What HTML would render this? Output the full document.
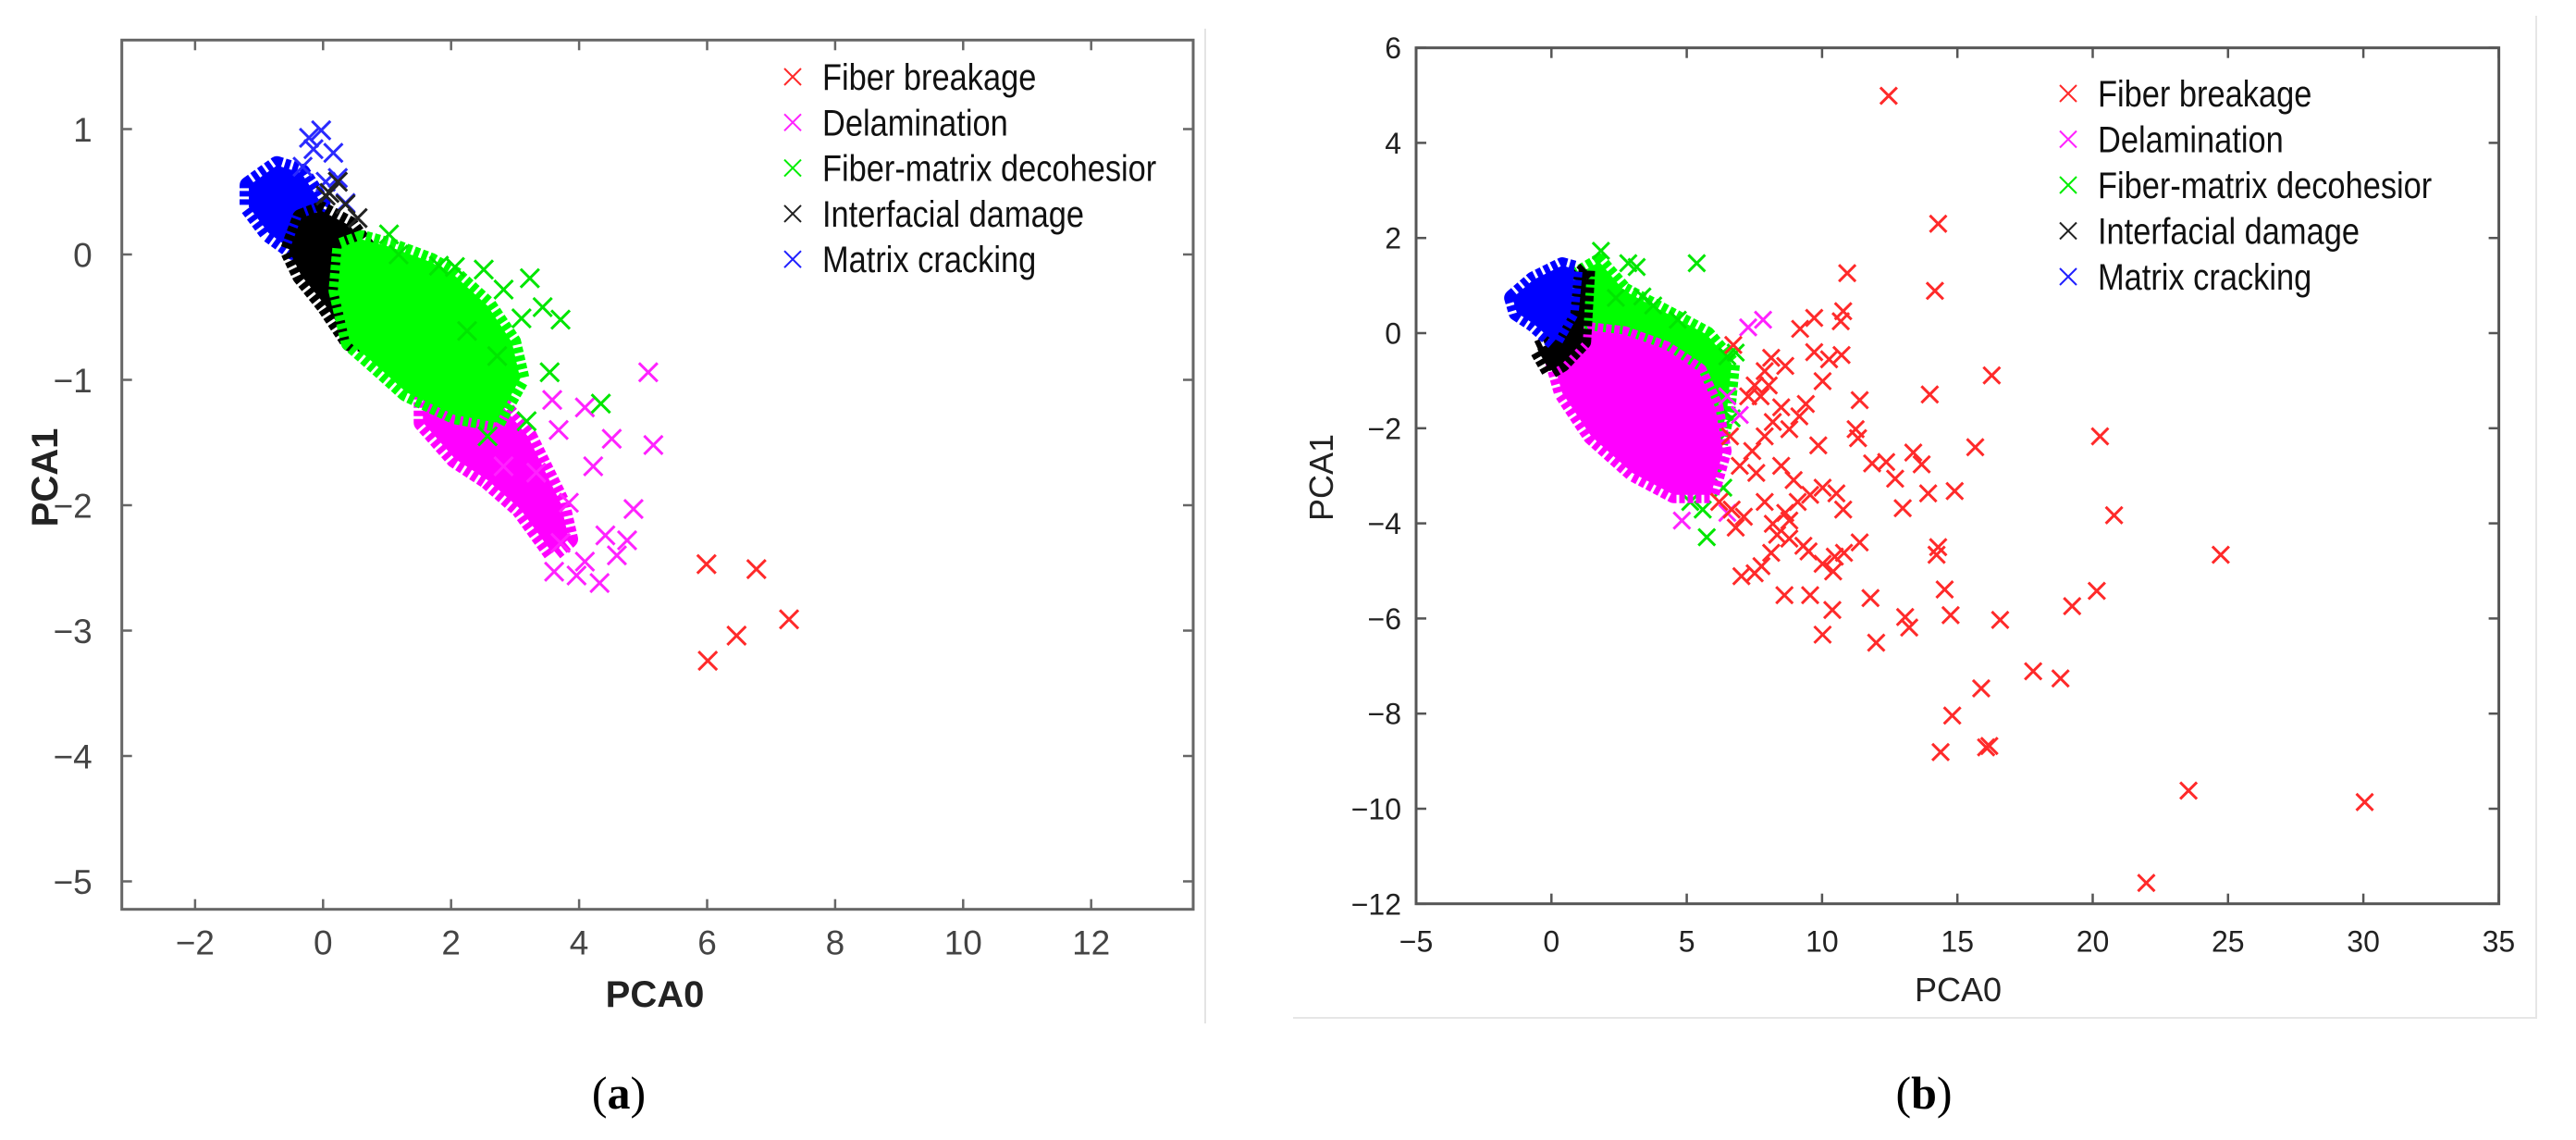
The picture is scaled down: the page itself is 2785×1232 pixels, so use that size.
<!DOCTYPE html>
<html><head><meta charset="utf-8"><style>
html,body{margin:0;padding:0;background:#fff;}
svg{display:block;}
</style></head><body>
<svg id="fig" width="2785" height="1232" viewBox="0 0 2785 1232" xmlns="http://www.w3.org/2000/svg">
<rect x="0" y="0" width="2785" height="1232" fill="#fff"/>
<line x1="1303" y1="31" x2="1303" y2="1106" stroke="#e4e4e4" stroke-width="2"/>
<polyline points="1398,1100 2742,1100 2742,17" fill="none" stroke="#e6e6e6" stroke-width="2"/>
<g id="plotA"></g>
<g id="plotB"></g>
<text x="669" y="1198" font-family="Liberation Serif, serif" font-size="50" text-anchor="middle">(<tspan font-weight="bold">a</tspan>)</text>
<text x="2080" y="1198" font-family="Liberation Serif, serif" font-size="50" text-anchor="middle">(<tspan font-weight="bold">b</tspan>)</text>
</svg>
<script>
// ---------- Panel A data ----------
const aXTicks=[-2,0,2,4,6,8,10,12];
const aYTicks=[-5,-4,-3,-2,-1,0,1];
const aBlueCloud=[[-1.16,0.55],[-0.72,0.71],[-0.34,0.65],[-0.03,0.41],[-0.28,0.17],[-0.47,0.03],[-0.85,0.17],[-1.16,0.38]];
const aBluePts=[[-0.22,0.93],[-0.03,0.99],[0.16,0.81],[-0.15,0.84],[0.23,0.61],[0.04,0.58],[0.35,0.41],[-0.32,0.70]];
const aBlackCloud=[[-0.34,0.29],[-0.03,0.35],[0.42,0.23],[0.67,0.06],[0.61,-0.29],[0.61,-0.70],[0.42,-0.70],[0.04,-0.41],[-0.34,-0.17],[-0.53,0.03]];
const aBlackPts=[[0.10,0.49],[0.23,0.58],[0.54,0.29],[1.43,-0.20],[0.04,0.47],[0.35,0.40]];
const aGreenCloud=[[0.29,0.06],[0.61,0.12],[1.05,0.06],[1.68,-0.06],[2.06,-0.17],[2.57,-0.41],[2.95,-0.70],[3.08,-0.99],[2.70,-1.34],[2.06,-1.28],[1.30,-1.10],[0.80,-0.87],[0.42,-0.70],[0.23,-0.29]];
const aGreenPts=[[1.03,0.16],[1.18,0],[1.81,-0.09],[2.06,-0.10],[2.51,-0.12],[2.82,-0.28],[3.23,-0.19],[3.43,-0.42],[3.71,-0.52],[3.10,-0.51],[3.54,-0.94],[4.34,-1.19],[3.18,-1.33],[2.57,-1.45],[2.25,-0.61],[2.72,-0.81]];
const aMagentaCloud=[[1.56,-1.10],[2.44,-0.99],[3.20,-1.45],[3.71,-1.98],[3.84,-2.27],[3.58,-2.38],[3.08,-2.03],[2.57,-1.80],[2.06,-1.63],[1.56,-1.34]];
const aMagentaPts=[[5.08,-0.94],[5.16,-1.52],[4.51,-1.47],[4.09,-1.22],[4.22,-1.69],[4.85,-2.03],[4.75,-2.28],[4.41,-2.24],[4.32,-2.62],[3.96,-2.56],[4.09,-2.45],[3.61,-2.53],[3.71,-2.30],[3.84,-1.98],[3.68,-1.40],[3.58,-1.16],[4.59,-2.40],[2.82,-1.69],[3.33,-1.74]];
const aRedPts=[[5.99,-2.47],[6.77,-2.51],[7.28,-2.91],[6.46,-3.04],[6.01,-3.24]];

// ---------- Panel B data ----------
const bXTicks=[-5,0,5,10,15,20,25,30,35];
const bYTicks=[-12,-10,-8,-6,-4,-2,0,2,4,6];
const bBlueCloud=[[-1.44,0.74],[-0.67,1.12],[0.40,1.42],[0.85,1.35],[0.70,0.43],[0.09,-0.18],[-0.67,0.20],[-1.28,0.43]];
const bBlackCloud=[[0.09,-0.18],[0.70,0.43],[1.01,1.19],[1.31,1.35],[1.16,-0.18],[0.40,-0.64],[-0.06,-0.80],[-0.52,-0.34]];
const bGreenCloud=[[0.85,1.19],[1.77,1.50],[2.69,0.89],[4.21,0.43],[5.74,-0.03],[6.66,-0.64],[6.50,-1.56],[6.05,-2.79],[5.13,-3.09],[4.21,-2.17],[2.69,-0.95],[1.16,-0.18],[0.70,0.43]];
const bGreenPts=[[1.83,1.73],[2.84,1.47],[3.15,1.39],[5.37,1.47],[3.36,0.77],[3.76,0.58],[2.38,0.74],[4.67,0.28],[6.50,-0.49],[6.81,-0.41],[5.74,-4.29],[5.59,-3.71],[6.35,-3.25],[5.13,-3.55],[6.05,-2.33],[6.66,-1.79]];
const bMagentaCloud=[[0.55,-0.18],[1.47,0.05],[2.69,-0.03],[4.21,-0.34],[5.44,-0.80],[6.05,-1.56],[6.35,-2.48],[5.89,-3.40],[4.52,-3.40],[2.99,-2.94],[1.47,-2.17],[0.40,-1.26],[0.09,-0.64]];
const bMagentaPts=[[7.27,0.12],[7.82,0.28],[4.82,-3.94],[6.50,-1.33],[6.96,-1.72],[6.50,-3.78]];
const bRedPts=[[12.46,4.99],[14.29,2.30],[14.17,0.89],[10.93,1.26],[10.78,0.46],[10.69,0.25],[9.71,0.32],[9.19,0.09],[6.72,-0.25],[8.12,-0.52],[8.64,-0.69],[9.71,-0.40],[10.26,-0.55],[10.72,-0.46],[10.02,-1.01],[7.88,-0.80],[7.51,-1.10],[11.39,-1.41],[13.98,-1.29],[16.27,-0.89],[15.66,-2.40],[20.27,-2.17],[20.79,-3.83],[24.73,-4.66],[14.90,-3.32],[13.92,-3.37],[12.98,-3.68],[11.85,-2.74],[12.37,-2.71],[12.70,-3.06],[13.37,-2.51],[13.68,-2.76],[11.24,-2.02],[11.33,-2.21],[9.86,-2.36],[9.40,-1.49],[9.16,-1.75],[8.79,-2.02],[8.18,-1.87],[7.88,-2.17],[7.42,-2.48],[6.96,-2.79],[6.60,-2.17],[8.49,-2.79],[8.95,-3.09],[9.10,-3.55],[9.56,-3.40],[10.02,-3.25],[10.53,-3.37],[10.78,-3.71],[11.39,-4.40],[10.81,-4.62],[10.41,-5.01],[10.47,-4.70],[10.02,-4.85],[9.50,-4.59],[9.31,-4.47],[8.79,-4.32],[8.34,-4.24],[8.12,-4.62],[7.76,-4.90],[7.51,-5.05],[7.02,-5.11],[8.61,-5.51],[9.56,-5.51],[10.38,-5.82],[10.02,-6.34],[11.79,-5.57],[12.00,-6.51],[13.07,-5.97],[13.22,-6.19],[14.29,-4.50],[14.23,-4.66],[14.53,-5.39],[14.75,-5.93],[16.58,-6.03],[19.24,-5.74],[20.15,-5.42],[17.80,-7.11],[18.81,-7.26],[15.88,-7.47],[14.81,-8.04],[14.38,-8.81],[16.06,-8.71],[16.18,-8.68],[23.54,-9.62],[30.05,-9.86],[21.98,-11.56],[6.66,-3.71],[7.11,-3.86],[7.88,-3.55],[8.18,-4.01],[8.64,-3.78],[8.79,-3.94],[6.81,-4.09],[6.20,-3.55],[7.57,-2.94],[8.49,-1.56],[7.73,-1.33],[7.27,-1.33],[8.03,-1.10]];

const legendLabels=["Fiber breakage","Delamination","Fiber-matrix decohesior","Interfacial damage","Matrix cracking"];
const legendColors=["#ff2a2a","#ff22ff","#00ee00","#222222","#2020ff"];

const NS="http://www.w3.org/2000/svg";
function mk(parent,tag,attrs){const e=document.createElementNS(NS,tag);for(const k in attrs)e.setAttribute(k,attrs[k]);parent.appendChild(e);return e;}

function makeChart(g,cfg){
  const X=v=>cfg.x0+v*cfg.sx, Y=v=>cfg.y0-v*cfg.sy;
  const L=cfg.box[0],R=cfg.box[1],T=cfg.box[2],B=cfg.box[3];
  function cloud(pts,color,name){
    const p=mk(g,'polygon',{points:pts.map(q=>X(q[0])+','+Y(q[1])).join(' '),fill:color,stroke:color,'stroke-width':cfg.ms*2,'stroke-linejoin':'round','stroke-dasharray':'6 3'});
    
    
  }
  function marks(pts,color,name){
    const grp=mk(g,'g',{});
    
    
    pts.forEach(q=>{
      const cx=X(q[0]),cy=Y(q[1]),s=cfg.ms;
      const pth=mk(grp,'path',{d:`M${cx-s},${cy-s}L${cx+s},${cy+s}M${cx-s},${cy+s}L${cx+s},${cy-s}`,stroke:color,'stroke-width':3,fill:'none'});
      
      
    });
  }
  cfg.layers.forEach(l=>{ if(l.type==='cloud')cloud(l.data,l.color,l.name); else marks(l.data,l.color,l.name); });
  const box=mk(g,'rect',{x:L,y:T,width:R-L,height:B-T,fill:'none',stroke:cfg.axisColor,'stroke-width':3});
  
  
  cfg.xt.forEach(v=>{
    const x=X(v);
    mk(g,'line',{x1:x,y1:B,x2:x,y2:B-11,stroke:cfg.axisColor,'stroke-width':2.5});
    mk(g,'line',{x1:x,y1:T,x2:x,y2:T+11,stroke:cfg.axisColor,'stroke-width':2.5});
    const t=mk(g,'text',{x:x,y:B+cfg.xlOff,'text-anchor':'middle','font-family':'Liberation Sans, sans-serif','font-size':cfg.fs,fill:cfg.labColor});
    t.textContent=String(v).replace('-','\u2212');
    
    
  });
  cfg.yt.forEach(v=>{
    const y=Y(v);
    mk(g,'line',{x1:L,y1:y,x2:L+11,y2:y,stroke:cfg.axisColor,'stroke-width':2.5});
    mk(g,'line',{x1:R,y1:y,x2:R-11,y2:y,stroke:cfg.axisColor,'stroke-width':2.5});
    const t=mk(g,'text',{x:L-cfg.ylOff,y:y+cfg.fs*0.36,'text-anchor':'end','font-family':'Liberation Sans, sans-serif','font-size':cfg.fs,fill:cfg.labColor});
    t.textContent=String(v).replace('-','\u2212');
    
    
  });
  const xt=mk(g,'text',{x:cfg.xTitle[0],y:cfg.xTitle[1],'text-anchor':'middle','font-family':'Liberation Sans, sans-serif','font-size':cfg.tfs,'font-weight':cfg.tw,fill:'#222'});
  xt.textContent='PCA0';
  
  
  const yt=mk(g,'text',{x:0,y:0,transform:`translate(${cfg.yTitle[0]},${cfg.yTitle[1]}) rotate(-90)`,'text-anchor':'middle','font-family':'Liberation Sans, sans-serif','font-size':cfg.tfs,'font-weight':cfg.tw,fill:'#222'});
  yt.textContent='PCA1';
  
  
  const lg=mk(g,'g',{});
  
  
  legendLabels.forEach((lab,i)=>{
    const y=cfg.leg[1]+i*cfg.legStep, mx=cfg.leg[0], s=9;
    const e=mk(lg,'g',{});
    
    
    mk(e,'path',{d:`M${mx-s},${y-s}L${mx+s},${y+s}M${mx-s},${y+s}L${mx+s},${y-s}`,stroke:legendColors[i],'stroke-width':2,fill:'none'});
    const t=mk(e,'text',{x:0,y:0,transform:`translate(${mx+32},${y+14}) scale(0.86,1)`,'font-family':'Liberation Sans, sans-serif','font-size':40,fill:'#111'});
    t.textContent=lab;
  });
}

makeChart(document.getElementById('plotA'),{
  x0:349.3,sx:69.2,y0:275,sy:135.5,box:[131.7,1290,43.3,982.7],ms:10,
  axisColor:'#666',labColor:'#444',fs:37,xlOff:49,ylOff:32,tfs:40,tw:'bold',
  xTitle:[708,1088],yTitle:[62,516],leg:[857,83],legStep:49.3,
  xt:aXTicks,yt:aYTicks,
  layers:[
    {type:'cloud',data:aMagentaCloud,color:'#ff00ff',name:'delamination-cloud'},
    {type:'pts',data:aMagentaPts,color:'#ff22ff',name:'delamination-points'},
    {type:'cloud',data:aBlueCloud,color:'#0000ff',name:'matrix-cracking-cloud'},
    {type:'pts',data:aBluePts,color:'#2a2aff',name:'matrix-cracking-points'},
    {type:'cloud',data:aBlackCloud,color:'#000000',name:'interfacial-damage-cloud'},
    {type:'pts',data:aBlackPts,color:'#222222',name:'interfacial-damage-points'},
    {type:'cloud',data:aGreenCloud,color:'#00ff00',name:'fiber-matrix-cloud'},
    {type:'pts',data:aGreenPts,color:'#00e600',name:'fiber-matrix-points'},
    {type:'pts',data:aRedPts,color:'#ff2a2a',name:'fiber-breakage-points'}
  ]});

makeChart(document.getElementById('plotB'),{
  x0:1677.3,sx:29.26,y0:360,sy:51.4,box:[1531,2701.6,51.7,976.7],ms:9,
  axisColor:'#555',labColor:'#222',fs:32,xlOff:52,ylOff:16,tfs:36,tw:'normal',
  xTitle:[2117,1082],yTitle:[1441,516],leg:[2236,101],legStep:49.5,
  xt:bXTicks,yt:bYTicks,
  layers:[
    {type:'cloud',data:bGreenCloud,color:'#00ff00',name:'fiber-matrix-cloud'},
    {type:'pts',data:bGreenPts,color:'#00e600',name:'fiber-matrix-points'},
    {type:'cloud',data:bMagentaCloud,color:'#ff00ff',name:'delamination-cloud'},
    {type:'pts',data:bMagentaPts,color:'#ff22ff',name:'delamination-points'},
    {type:'cloud',data:bBlackCloud,color:'#000000',name:'interfacial-damage-cloud'},
    {type:'cloud',data:bBlueCloud,color:'#0000ff',name:'matrix-cracking-cloud'},
    {type:'pts',data:bRedPts,color:'#ff2a2a',name:'fiber-breakage-points'}
  ]});
</script>
</body></html>
